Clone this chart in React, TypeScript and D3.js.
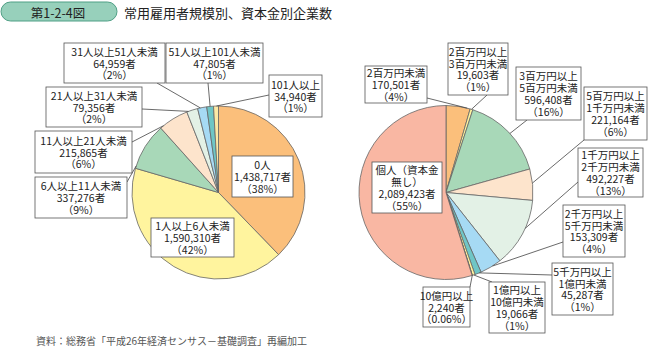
import * as d3 from 'd3';

const leftCategories = ['0人', '1人以上6人未満', '6人以上11人未満', '11人以上21人未満', '21人以上31人未満', '31人以上51人未満', '51人以上101人未満', '101人以上'];
const leftValues = [1438717, 1590310, 337276, 215865, 79356, 64959, 47805, 34940];
const leftPercents = ['38%', '42%', '9%', '6%', '2%', '2%', '1%', '1%'];

const rightCategories = ['2百万円未満', '2百万円以上\n3百万円未満', '3百万円以上\n5百万円未満', '5百万円以上\n1千万円未満', '1千万円以上\n2千万円未満', '2千万円以上\n5千万円未満', '5千万円以上\n1億円未満', '1億円以上\n10億円未満', '10億円以上', '個人（資本金\n無し）'];
const rightValues = [170501, 19603, 596408, 221164, 492227, 153309, 45287, 19066, 2240, 2089423];
const rightPercents = ['4%', '1%', '16%', '6%', '13%', '4%', '1%', '1%', '0.06%', '55%'];

const leftColors = ['#fbbf7b', '#fff49e', '#a8d8b8', '#fde4cc', '#e3f1e6', '#a6daf4', '#6fc6c6', '#fde9a5'];
const rightColors = ['#fbbf7b', '#fff49e', '#a8d8b8', '#fde4cc', '#e3f1e6', '#a6daf4', '#6fc6c6', '#fff49e', '#fbbf7b', '#f9b7a3'];

// box [x, y, w, h], leader anchor on box (or null), t = where along the slice the leader lands
const leftLayout = [
  { box: [232, 156, 61, 41], anchor: null, t: 0.5 },
  { box: [151, 218, 83, 39], anchor: null, t: 0.5 },
  { box: [35, 177, 92, 41], anchor: [127, 182], t: 0.05 },
  { box: [35, 131, 97, 42], anchor: [132, 142], t: 0.12 },
  { box: [46, 87, 96, 40], anchor: [142, 109], t: 0.15 },
  { box: [64, 43, 101, 40], anchor: [157, 83], t: 0.3 },
  { box: [166, 43, 97, 40], anchor: [208, 83], t: 0.5 },
  { box: [269, 75, 53, 42], anchor: [269, 95], t: 0.6 },
];

const rightLayout = [
  { box: [365, 66, 62, 37], anchor: [427, 98], t: 0.88 },
  { box: [448, 43, 60, 52], anchor: [487, 95], t: 0.5 },
  { box: [516, 67, 65, 53], anchor: [527, 120], t: 0.52 },
  { box: [584, 87, 63, 53], anchor: [584, 140], t: 0.45 },
  { box: [578, 148, 65, 49], anchor: [578, 182], t: 0.41 },
  { box: [563, 205, 62, 52], anchor: [563, 242], t: 0.41 },
  { box: [552, 263, 61, 52], anchor: [552, 275], t: 0.3 },
  { box: [489, 282, 56, 51], anchor: [492, 282], t: 0.5 },
  { box: [423, 287, 47, 40], anchor: [470, 287], t: 0.5 },
  { box: [372, 162, 70, 51], anchor: null, t: 0.5 },
];

const FONT = '"Noto Sans CJK JP", "Noto Sans", sans-serif';
const fmt = d3.format(',');

type Layout = { box: number[]; anchor: number[] | null; t: number };

function Pie({ cx, cy, r, categories, values, percents, colors, layout }: {
  cx: number; cy: number; r: number; categories: string[]; values: number[];
  percents: string[]; colors: string[]; layout: Layout[];
}) {
  const arcs = d3.pie<number>().sort(null)(values);
  const arc = d3.arc<d3.PieArcDatum<number>>().innerRadius(0).outerRadius(r);
  const lh = 11.8;

  return (
    <g>
      <g transform={`translate(${cx},${cy})`}>
        {arcs.map((a, i) => (
          <path key={i} d={arc(a) || ''} fill={colors[i]} stroke="#666" strokeWidth={0.8} />
        ))}
      </g>
      {arcs.map((a, i) => {
        const l = layout[i];
        if (!l.anchor) return null;
        const ang = a.startAngle + l.t * (a.endAngle - a.startAngle);
        const px = cx + r * Math.sin(ang);
        const py = cy - r * Math.cos(ang);
        return <line key={i} x1={l.anchor[0]} y1={l.anchor[1]} x2={px} y2={py} stroke="#444" strokeWidth={0.8} />;
      })}
      {arcs.map((a, i) => {
        const [x, y, w, h] = layout[i].box;
        const lines = [...categories[i].split('\n'), `${fmt(values[i])}者`, `（${percents[i]}）`];
        const y0 = y + h / 2 - ((lines.length - 1) * lh) / 2;
        return (
          <g key={i}>
            <rect x={x} y={y} width={w} height={h} fill="#fff" stroke="#555" strokeWidth={0.8} />
            {lines.map((s, j) => (
              <text key={j} x={x + w / 2} y={y0 + j * lh} textAnchor="middle" dominantBaseline="central"
                fontSize={10.5} fill="#222" fontFamily={FONT}>{s}</text>
            ))}
          </g>
        );
      })}
    </g>
  );
}

export default function App() {
  return (
    <svg width={648} height={354} style={{ position: 'absolute', left: 0, top: 0, background: '#fff' }}>
      <rect x={1} y={2} width={116} height={19} rx={9.5} fill="#97d0bb" stroke="#4f9f85" strokeWidth={1} />
      <text x={58} y={12} textAnchor="middle" dominantBaseline="central" fontSize={12.5} fill="#222" fontFamily={FONT}>第1-2-4図</text>
      <text x={124} y={12.5} dominantBaseline="central" fontSize={13} fill="#222" fontFamily={FONT}>常用雇用者規模別、資本金別企業数</text>

      <Pie cx={218.5} cy={192.5} r={86.5} categories={leftCategories} values={leftValues}
        percents={leftPercents} colors={leftColors} layout={leftLayout} />
      <Pie cx={446} cy={192.5} r={87} categories={rightCategories} values={rightValues}
        percents={rightPercents} colors={rightColors} layout={rightLayout} />

      <text x={36} y={340} dominantBaseline="central" fontSize={10} fill="#555" fontFamily={FONT}>資料：総務省「平成26年経済センサス－基礎調査」再編加工</text>
    </svg>
  );
}
